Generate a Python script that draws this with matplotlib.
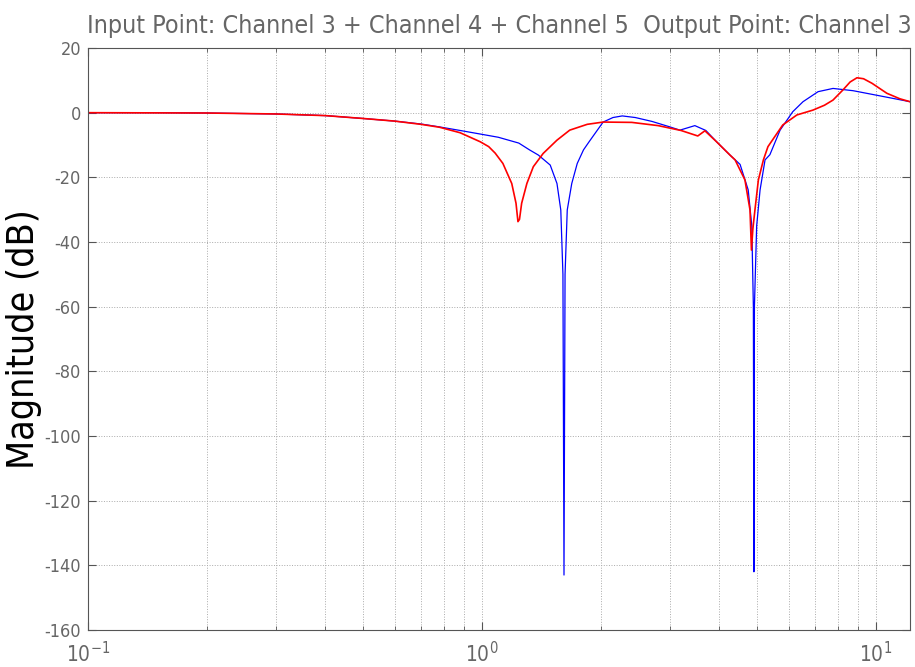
import numpy as np
import matplotlib
matplotlib.use('Agg')
import matplotlib.pyplot as plt
from matplotlib.ticker import LogLocator, FixedLocator

plt.rcParams['font.family'] = ['DejaVu Sans']
plt.rcParams['font.stretch'] = 'condensed'
plt.rcParams['mathtext.default'] = 'regular'
plt.rcParams['axes.unicode_minus'] = False

# model response (blue)
freq_model = [0.1, 0.15, 0.2, 0.3, 0.4, 0.5, 0.6, 0.7, 0.78, 0.88, 1.0, 1.1, 1.24, 1.32,
              1.39, 1.49, 1.55, 1.585, 1.605, 1.615, 1.625, 1.646, 1.69, 1.745, 1.81,
              1.87, 1.96, 2.03, 2.15, 2.27, 2.45, 2.7, 3.0, 3.18, 3.47, 3.7, 3.94, 4.26,
              4.52, 4.74, 4.84, 4.885, 4.90, 4.915, 4.98, 5.08, 5.23, 5.38, 5.71, 6.15,
              6.53, 7.13, 7.78, 8.75, 10.24, 12.2]
mag_model = [0.0, 0.0, -0.1, -0.4, -0.9, -1.8, -2.6, -3.5, -4.4, -5.5, -6.7, -7.6, -9.4, -11.5,
             -13.1, -16.2, -21.9, -30.1, -50.0, -143.0, -50.0, -30.1, -21.9, -15.7, -11.5,
             -9.0, -5.5, -2.9, -1.5, -1.0, -1.5, -2.7, -4.4, -5.4, -4.0, -5.5, -9.0, -13.1,
             -16.0, -23.9, -35.0, -60.0, -142.0, -60.0, -35.0, -23.9, -14.6, -13.0, -5.4, 0.3,
             3.4, 6.5, 7.5, 6.8, 5.2, 3.4]

# measured response (red)
freq_meas = [0.1, 0.2, 0.3, 0.4, 0.5, 0.6, 0.7, 0.78, 0.88, 0.99, 1.04, 1.08, 1.13, 1.19,
             1.22, 1.234, 1.245, 1.261, 1.30, 1.35, 1.43, 1.55, 1.67, 1.85, 2.03, 2.4,
             2.8, 3.2, 3.53, 3.68, 3.94, 4.26, 4.39, 4.65, 4.79, 4.83, 4.87, 4.93, 5.03,
             5.18, 5.32, 5.8, 6.30, 6.92, 7.4, 7.78, 8.24, 8.6, 8.95, 9.3, 9.77, 10.66,
             11.5, 12.2]
mag_meas = [0.0, -0.1, -0.4, -0.9, -1.8, -2.6, -3.6, -4.5, -6.2, -9.0, -10.5, -12.5, -15.7, -21.9,
            -28.0, -33.7, -33.0, -28.0, -21.9, -16.7, -12.6, -8.5, -5.4, -3.6, -2.9, -3.0,
            -4.0, -5.5, -7.2, -5.6, -9.0, -13.1, -14.6, -20.8, -30.1, -42.5, -36.0, -30.1, -20.8,
            -14.6, -10.5, -3.8, -0.7, 0.8, 2.3, 3.9, 7.0, 9.5, 10.8, 10.5, 9.1, 6.0,
            4.3, 3.4]

y_ticks = [20, 0, -20, -40, -60, -80, -100, -120, -140, -160]

fig = plt.figure(figsize=(9.15, 6.67), dpi=100)
ax = fig.add_axes([0.0962, 0.0555, 0.8983, 0.8725])

ax.semilogx(freq_model, mag_model, color='blue', linewidth=0.9)
ax.semilogx(freq_meas, mag_meas, color='red', linewidth=1.2)

ax.set_xlim(0.1, 12.2)
ax.set_ylim(-160, 20)
ax.yaxis.set_major_locator(FixedLocator(y_ticks))
ax.xaxis.set_major_locator(LogLocator(base=10))
ax.xaxis.set_minor_locator(LogLocator(base=10, subs=np.arange(2, 10)))

ax.grid(True, which='major', linestyle=':', color='#aaaaaa', linewidth=0.7)
ax.grid(True, which='minor', axis='x', linestyle=':', color='#aaaaaa', linewidth=0.7)

ax.tick_params(which='both', direction='in', top=True, right=True, colors='#555555',
               labelcolor='#666666', labelsize=13)
ax.tick_params(which='major', length=6)
ax.tick_params(which='minor', length=3)
ax.tick_params(axis='x', pad=8, labelsize=15)
ax.tick_params(axis='y', pad=5)
for s in ax.spines.values():
    s.set_color('#555555')

ax.set_ylabel('Magnitude (dB)', fontsize=27, color='black', labelpad=2)
ax.set_title('Input Point: Channel 3 + Channel 4 + Channel 5  Output Point: Channel 3',
             fontsize=18, color='#666666', pad=11)

fig.savefig('out.png', dpi=100)
